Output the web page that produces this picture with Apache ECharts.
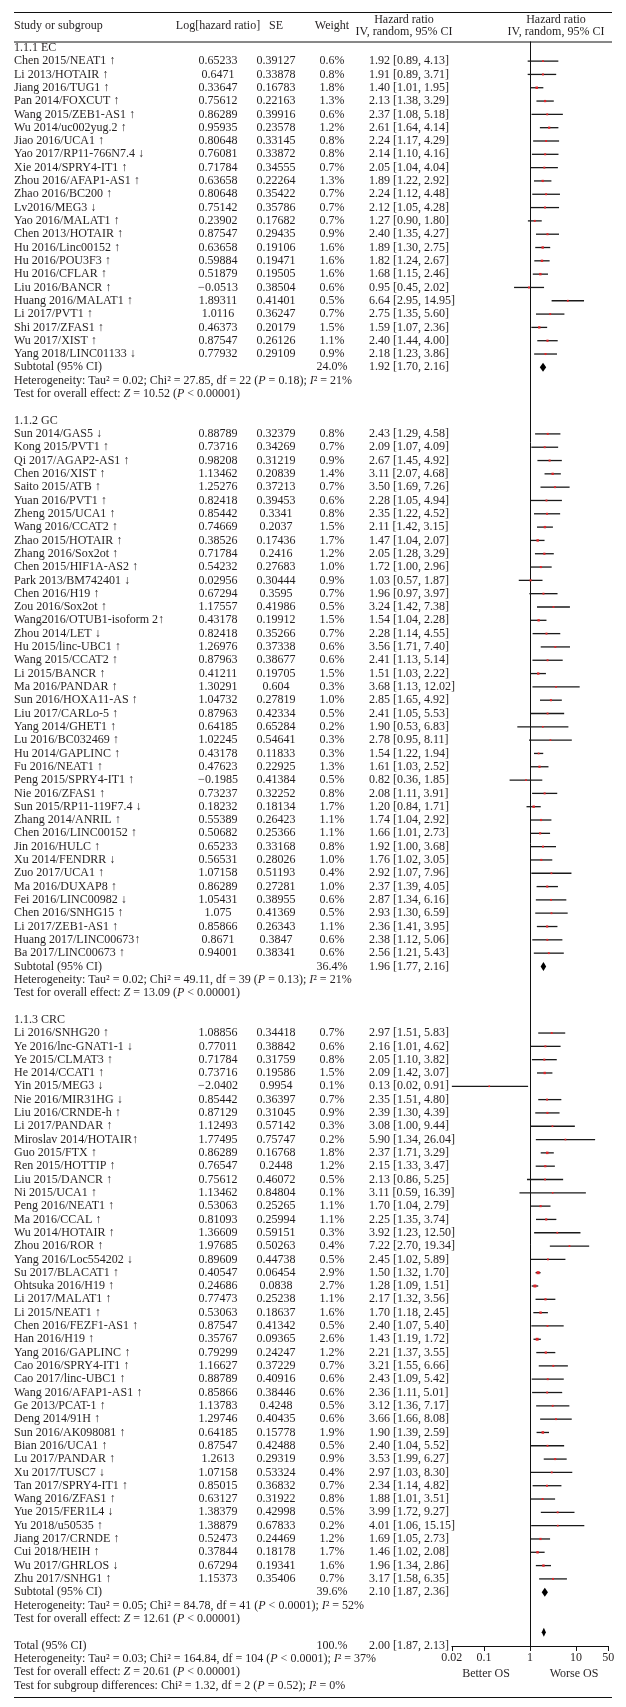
<!DOCTYPE html>
<html>
<head>
<meta charset="utf-8">
<script src="https://cdn.jsdelivr.net/npm/echarts@6/dist/echarts.min.js"></script>
<style>
  html, body { margin: 0; padding: 0; background: #fff; }
  #chart { width: 626px; height: 1707px; }
</style>
</head>
<body>
<div id="chart"></div>
<script>
// ---- data: 1.1.1 EC ----
const ecStudies = ['Chen 2015/NEAT1 ↑', 'Li 2013/HOTAIR ↑', 'Jiang 2016/TUG1 ↑', 'Pan 2014/FOXCUT ↑', 'Wang 2015/ZEB1-AS1 ↑',
  'Wu 2014/uc002yug.2 ↑', 'Jiao 2016/UCA1 ↑', 'Yao 2017/RP11-766N7.4 ↓', 'Xie 2014/SPRY4-IT1 ↑', 'Zhou 2016/AFAP1-AS1 ↑',
  'Zhao 2016/BC200 ↑', 'Lv2016/MEG3 ↓', 'Yao 2016/MALAT1 ↑', 'Chen 2013/HOTAIR ↑', 'Hu 2016/Linc00152 ↑',
  'Hu 2016/POU3F3 ↑', 'Hu 2016/CFLAR ↑', 'Liu 2016/BANCR ↑', 'Huang 2016/MALAT1 ↑', 'Li 2017/PVT1 ↑',
  'Shi 2017/ZFAS1 ↑', 'Wu 2017/XIST ↑', 'Yang 2018/LINC01133 ↓'];
const ecLogHR = [0.65233, 0.6471, 0.33647, 0.75612, 0.86289, 0.95935, 0.80648, 0.76081, 0.71784, 0.63658,
  0.80648, 0.75142, 0.23902, 0.87547, 0.63658, 0.59884, 0.51879, -0.0513, 1.89311, 1.0116,
  0.46373, 0.87547, 0.77932];
const ecSE = [0.39127, 0.33878, 0.16783, 0.22163, 0.39916, 0.23578, 0.33145, 0.33872, 0.34555, 0.22264,
  0.35422, 0.35786, 0.17682, 0.29435, 0.19106, 0.19471, 0.19505, 0.38504, 0.41401, 0.36247,
  0.20179, 0.26126, 0.29109];
const ecWeight = ['0.6%', '0.8%', '1.8%', '1.3%', '0.6%', '1.2%', '0.8%', '0.8%', '0.7%', '1.3%',
  '0.7%', '0.7%', '0.7%', '0.9%', '1.6%', '1.6%', '1.6%', '0.6%', '0.5%', '0.7%',
  '1.5%', '1.1%', '0.9%'];
const ecHR = [1.92, 1.91, 1.40, 2.13, 2.37, 2.61, 2.24, 2.14, 2.05, 1.89, 2.24, 2.12, 1.27, 2.40, 1.89, 1.82, 1.68, 0.95, 6.64, 2.75, 1.59, 2.40, 2.18];
const ecLow = [0.89, 0.89, 1.01, 1.38, 1.08, 1.64, 1.17, 1.10, 1.04, 1.22, 1.12, 1.05, 0.90, 1.35, 1.30, 1.24, 1.15, 0.45, 2.95, 1.35, 1.07, 1.44, 1.23];
const ecHigh = [4.13, 3.71, 1.95, 3.29, 5.18, 4.14, 4.29, 4.16, 4.04, 2.92, 4.48, 4.28, 1.80, 4.27, 2.75, 2.67, 2.46, 2.02, 14.95, 5.60, 2.36, 4.00, 3.86];

// ---- data: 1.1.2 GC ----
const gcStudies = ['Sun 2014/GAS5 ↓', 'Kong 2015/PVT1 ↑', 'Qi 2017/AGAP2-AS1 ↑', 'Chen 2016/XIST ↑', 'Saito 2015/ATB ↑',
  'Yuan 2016/PVT1 ↑', 'Zheng 2015/UCA1 ↑', 'Wang 2016/CCAT2 ↑', 'Zhao 2015/HOTAIR ↑', 'Zhang 2016/Sox2ot ↑',
  'Chen 2015/HIF1A-AS2 ↑', 'Park 2013/BM742401 ↓', 'Chen 2016/H19 ↑', 'Zou 2016/Sox2ot ↑', 'Wang2016/OTUB1-isoform 2↑',
  'Zhou 2014/LET ↓', 'Hu 2015/linc-UBC1 ↑', 'Wang 2015/CCAT2 ↑', 'Li 2015/BANCR ↑', 'Ma 2016/PANDAR ↑',
  'Sun 2016/HOXA11-AS ↑', 'Liu 2017/CARLo-5 ↑', 'Yang 2014/GHET1 ↑', 'Lu 2016/BC032469 ↑', 'Hu 2014/GAPLINC ↑',
  'Fu 2016/NEAT1 ↑', 'Peng 2015/SPRY4-IT1 ↑', 'Nie 2016/ZFAS1 ↑', 'Sun 2015/RP11-119F7.4 ↓', 'Zhang 2014/ANRIL ↑',
  'Chen 2016/LINC00152 ↑', 'Jin 2016/HULC ↑', 'Xu 2014/FENDRR ↓', 'Zuo 2017/UCA1 ↑', 'Ma 2016/DUXAP8 ↑',
  'Fei 2016/LINC00982 ↓', 'Chen 2016/SNHG15 ↑', 'Li 2017/ZEB1-AS1 ↑', 'Huang 2017/LINC00673↑', 'Ba 2017/LINC00673 ↑'];
const gcLogHR = [0.88789, 0.73716, 0.98208, 1.13462, 1.25276, 0.82418, 0.85442, 0.74669, 0.38526, 0.71784,
  0.54232, 0.02956, 0.67294, 1.17557, 0.43178, 0.82418, 1.26976, 0.87963, 0.41211, 1.30291,
  1.04732, 0.87963, 0.64185, 1.02245, 0.43178, 0.47623, -0.1985, 0.73237, 0.18232, 0.55389,
  0.50682, 0.65233, 0.56531, 1.07158, 0.86289, 1.05431, 1.075, 0.85866, 0.8671, 0.94001];
const gcSE = [0.32379, 0.34269, 0.31219, 0.20839, 0.37213, 0.39453, 0.3341, 0.2037, 0.17436, 0.2416,
  0.27683, 0.30444, 0.3595, 0.41986, 0.19912, 0.35266, 0.37338, 0.38677, 0.19705, 0.604,
  0.27819, 0.42334, 0.65284, 0.54641, 0.11833, 0.22925, 0.41384, 0.32252, 0.18134, 0.26423,
  0.25366, 0.33168, 0.28026, 0.51193, 0.27281, 0.38955, 0.41369, 0.26343, 0.3847, 0.38341];
const gcWeight = ['0.8%', '0.7%', '0.9%', '1.4%', '0.7%', '0.6%', '0.8%', '1.5%', '1.7%', '1.2%',
  '1.0%', '0.9%', '0.7%', '0.5%', '1.5%', '0.7%', '0.6%', '0.6%', '1.5%', '0.3%',
  '1.0%', '0.5%', '0.2%', '0.3%', '0.3%', '1.3%', '0.5%', '0.8%', '1.7%', '1.1%',
  '1.1%', '0.8%', '1.0%', '0.4%', '1.0%', '0.6%', '0.5%', '1.1%', '0.6%', '0.6%'];
const gcHR = [2.43, 2.09, 2.67, 3.11, 3.50, 2.28, 2.35, 2.11, 1.47, 2.05, 1.72, 1.03, 1.96, 3.24, 1.54, 2.28, 3.56, 2.41, 1.51, 3.68,
  2.85, 2.41, 1.90, 2.78, 1.54, 1.61, 0.82, 2.08, 1.20, 1.74, 1.66, 1.92, 1.76, 2.92, 2.37, 2.87, 2.93, 2.36, 2.38, 2.56];
const gcLow = [1.29, 1.07, 1.45, 2.07, 1.69, 1.05, 1.22, 1.42, 1.04, 1.28, 1.00, 0.57, 0.97, 1.42, 1.04, 1.14, 1.71, 1.13, 1.03, 1.13,
  1.65, 1.05, 0.53, 0.95, 1.22, 1.03, 0.36, 1.11, 0.84, 1.04, 1.01, 1.00, 1.02, 1.07, 1.39, 1.34, 1.30, 1.41, 1.12, 1.21];
const gcHigh = [4.58, 4.09, 4.92, 4.68, 7.26, 4.94, 4.52, 3.15, 2.07, 3.29, 2.96, 1.87, 3.97, 7.38, 2.28, 4.55, 7.40, 5.14, 2.22, 12.02,
  4.92, 5.53, 6.83, 8.11, 1.94, 2.52, 1.85, 3.91, 1.71, 2.92, 2.73, 3.68, 3.05, 7.96, 4.05, 6.16, 6.59, 3.95, 5.06, 5.43];

// ---- data: 1.1.3 CRC ----
const crcStudies = ['Li 2016/SNHG20 ↑', 'Ye 2016/lnc-GNAT1-1 ↓', 'Ye 2015/CLMAT3 ↑', 'He 2014/CCAT1 ↑', 'Yin 2015/MEG3 ↓',
  'Nie 2016/MIR31HG ↓', 'Liu 2016/CRNDE-h ↑', 'Li 2017/PANDAR ↑', 'Miroslav 2014/HOTAIR↑', 'Guo 2015/FTX ↑',
  'Ren 2015/HOTTIP ↑', 'Liu 2015/DANCR ↑', 'Ni 2015/UCA1 ↑', 'Peng 2016/NEAT1 ↑', 'Ma 2016/CCAL ↑',
  'Wu 2014/HOTAIR ↑', 'Zhou 2016/ROR ↑', 'Yang 2016/Loc554202 ↓', 'Su 2017/BLACAT1 ↑', 'Ohtsuka 2016/H19 ↑',
  'Li 2017/MALAT1 ↑', 'Li 2015/NEAT1 ↑', 'Chen 2016/FEZF1-AS1 ↑', 'Han 2016/H19 ↑', 'Yang 2016/GAPLINC ↑',
  'Cao 2016/SPRY4-IT1 ↑', 'Cao 2017/linc-UBC1 ↑', 'Wang 2016/AFAP1-AS1 ↑', 'Ge 2013/PCAT-1 ↑', 'Deng 2014/91H ↑',
  'Sun 2016/AK098081 ↑', 'Bian 2016/UCA1 ↑', 'Lu 2017/PANDAR ↑', 'Xu 2017/TUSC7 ↓', 'Tan 2017/SPRY4-IT1 ↑',
  'Wang 2016/ZFAS1 ↑', 'Yue 2015/FER1L4 ↓', 'Yu 2018/u50535 ↑', 'Jiang 2017/CRNDE ↑', 'Cui 2018/HEIH ↑',
  'Wu 2017/GHRLOS ↓', 'Zhu 2017/SNHG1 ↑'];
const crcLogHR = [1.08856, 0.77011, 0.71784, 0.73716, -2.0402, 0.85442, 0.87129, 1.12493, 1.77495, 0.86289,
  0.76547, 0.75612, 1.13462, 0.53063, 0.81093, 1.36609, 1.97685, 0.89609, 0.40547, 0.24686,
  0.77473, 0.53063, 0.87547, 0.35767, 0.79299, 1.16627, 0.88789, 0.85866, 1.13783, 1.29746,
  0.64185, 0.87547, 1.2613, 1.07158, 0.85015, 0.63127, 1.38379, 1.38879, 0.52473, 0.37844,
  0.67294, 1.15373];
const crcSE = [0.34418, 0.38842, 0.31759, 0.19586, 0.9954, 0.36397, 0.31045, 0.57142, 0.75747, 0.16768,
  0.2448, 0.46072, 0.84804, 0.25265, 0.25994, 0.59151, 0.50263, 0.44738, 0.06454, 0.0838,
  0.25238, 0.18637, 0.41342, 0.09365, 0.24247, 0.37229, 0.40916, 0.38446, 0.4248, 0.40435,
  0.15778, 0.42488, 0.29319, 0.53324, 0.36832, 0.31922, 0.42998, 0.67833, 0.24469, 0.18178,
  0.19341, 0.35406];
const crcWeight = ['0.7%', '0.6%', '0.8%', '1.5%', '0.1%', '0.7%', '0.9%', '0.3%', '0.2%', '1.8%',
  '1.2%', '0.5%', '0.1%', '1.1%', '1.1%', '0.3%', '0.4%', '0.5%', '2.9%', '2.7%',
  '1.1%', '1.6%', '0.5%', '2.6%', '1.2%', '0.7%', '0.6%', '0.6%', '0.5%', '0.6%',
  '1.9%', '0.5%', '0.9%', '0.4%', '0.7%', '0.8%', '0.5%', '0.2%', '1.2%', '1.7%',
  '1.6%', '0.7%'];
const crcHR = [2.97, 2.16, 2.05, 2.09, 0.13, 2.35, 2.39, 3.08, 5.90, 2.37, 2.15, 2.13, 3.11, 1.70, 2.25, 3.92, 7.22, 2.45, 1.50, 1.28,
  2.17, 1.70, 2.40, 1.43, 2.21, 3.21, 2.43, 2.36, 3.12, 3.66, 1.90, 2.40, 3.53, 2.97, 2.34, 1.88, 3.99, 4.01, 1.69, 1.46, 1.96, 3.17];
const crcLow = [1.51, 1.01, 1.10, 1.42, 0.02, 1.51, 1.30, 1.00, 1.34, 1.71, 1.33, 0.86, 0.59, 1.04, 1.35, 1.23, 2.70, 1.02, 1.32, 1.09,
  1.32, 1.18, 1.07, 1.19, 1.37, 1.55, 1.09, 1.11, 1.36, 1.66, 1.39, 1.04, 1.99, 1.03, 1.14, 1.01, 1.72, 1.06, 1.05, 1.02, 1.34, 1.58];
const crcHigh = [5.83, 4.62, 3.82, 3.07, 0.91, 4.80, 4.39, 9.44, 26.04, 3.29, 3.47, 5.25, 16.39, 2.79, 3.74, 12.50, 19.34, 5.89, 1.70, 1.51,
  3.56, 2.45, 5.40, 1.72, 3.55, 6.66, 5.42, 5.01, 7.17, 8.08, 2.59, 5.52, 6.27, 8.30, 4.82, 3.51, 9.27, 15.15, 2.73, 2.08, 2.86, 6.35];

// ---- subgroup and overall results ----
const groupLabels = ['1.1.1 EC', '1.1.2 GC', '1.1.3 CRC'];
const subtotalWeight = ['24.0%', '36.4%', '39.6%'];
const subtotalHR = [1.92, 1.96, 2.10];
const subtotalLow = [1.70, 1.77, 1.87];
const subtotalHigh = [2.16, 2.16, 2.36];
const heterogeneityText = [
  'Heterogeneity: Tau² = 0.02; Chi² = 27.85, df = 22 ({i|P} = 0.18); {i|I}² = 21%',
  'Heterogeneity: Tau² = 0.02; Chi² = 49.11, df = 39 ({i|P} = 0.13); {i|I}² = 21%',
  'Heterogeneity: Tau² = 0.05; Chi² = 84.78, df = 41 ({i|P} < 0.0001); {i|I}² = 52%'
];
const overallText = [
  'Test for overall effect: {i|Z} = 10.52 ({i|P} < 0.00001)',
  'Test for overall effect: {i|Z} = 13.09 ({i|P} < 0.00001)',
  'Test for overall effect: {i|Z} = 12.61 ({i|P} < 0.00001)'
];
const totalWeight = '100.%';
const totalHR = 2.00, totalLow = 1.87, totalHigh = 2.13;
const totalTexts = [
  'Heterogeneity: Tau² = 0.03; Chi² = 164.84, df = 104 ({i|P} < 0.0001); {i|I}² = 37%',
  'Test for overall effect: {i|Z} = 20.61 ({i|P} < 0.00001)',
  'Test for subgroup differences: Chi² = 1.32, df = 2 ({i|P} = 0.52); {i|I}² = 0%'
];
const tickValues = [0.02, 0.1, 1, 10, 50];
const tickLabels = ['0.02', '0.1', '1', '10', '50'];

// ---- layout ----
const W = 626, H = 1707;
const ROW_H = 13.314, ROW0_Y = 47.8;         // pixel centre of row 0
const COL = { name: 14, log: 218, se: 276, weight: 332, hr: 369, hrHead: 404, plotHead: 556 };
const X_ONE = 530, DECADE = 46;              // forest plot: x of HR = 1, px per decade
const TOP_RULE = 12, HEAD_RULE = 41.5, BOTTOM_RULE = 1697;
const AXIS_Y = 1646;
const FONT = 'Liberation Serif', FS = 12;
const INK = '#231f20';

const groups = [
  { names: ecStudies, logHR: ecLogHR, se: ecSE, weight: ecWeight, hr: ecHR, lo: ecLow, hi: ecHigh },
  { names: gcStudies, logHR: gcLogHR, se: gcSE, weight: gcWeight, hr: gcHR, lo: gcLow, hi: gcHigh },
  { names: crcStudies, logHR: crcLogHR, se: crcSE, weight: crcWeight, hr: crcHR, lo: crcLow, hi: crcHigh }
];

const rowOf = y => (y - ROW0_Y) / ROW_H;
const fmtHR = (h, l, u) => h.toFixed(2) + ' [' + l.toFixed(2) + ', ' + u.toFixed(2) + ']';
const fmtNum = v => String(v).replace('-', '\u2212');

const texts = [];     // [x, row, text, align]
const ciData = [];    // [log lo, log hi, log hr, row, weight]
const diamonds = [];  // [log lo, log hi, log est, row]
function addText(x, row, text, align) { texts.push([x, row, text, align || 'left']); }

// header
addText(COL.name, rowOf(26), 'Study or subgroup');
addText(COL.log, rowOf(26), 'Log[hazard ratio]', 'center');
addText(COL.se, rowOf(26), 'SE', 'center');
addText(COL.weight, rowOf(26), 'Weight', 'center');
addText(COL.hrHead, rowOf(20), 'Hazard ratio', 'center');
addText(COL.hrHead, rowOf(31.5), 'IV, random, 95% CI', 'center');
addText(COL.plotHead, rowOf(20), 'Hazard ratio', 'center');
addText(COL.plotHead, rowOf(31.5), 'IV, random, 95% CI', 'center');

let row = 0;
groups.forEach((g, gi) => {
  addText(COL.name, row, groupLabels[gi]);
  row++;
  g.names.forEach((n, i) => {
    addText(COL.name, row, n);
    addText(COL.log, row, fmtNum(g.logHR[i]), 'center');
    addText(COL.se, row, fmtNum(g.se[i]), 'center');
    addText(COL.weight, row, g.weight[i], 'center');
    addText(COL.hr, row, fmtHR(g.hr[i], g.lo[i], g.hi[i]));
    ciData.push([Math.log10(g.lo[i]), Math.log10(g.hi[i]), Math.log10(g.hr[i]), row, parseFloat(g.weight[i])]);
    row++;
  });
  addText(COL.name, row, 'Subtotal (95% CI)');
  addText(COL.weight, row, subtotalWeight[gi], 'center');
  addText(COL.hr, row, fmtHR(subtotalHR[gi], subtotalLow[gi], subtotalHigh[gi]));
  diamonds.push([Math.log10(subtotalLow[gi]), Math.log10(subtotalHigh[gi]), Math.log10(subtotalHR[gi]), row]);
  row++;
  addText(COL.name, row, heterogeneityText[gi]); row++;
  addText(COL.name, row, overallText[gi]); row++;
  row++; // blank
});
diamonds.push([Math.log10(totalLow), Math.log10(totalHigh), Math.log10(totalHR), row - 1]);
addText(COL.name, row, 'Total (95% CI)');
addText(COL.weight, row, totalWeight, 'center');
addText(COL.hr, row, fmtHR(totalHR, totalLow, totalHigh));
row++;
totalTexts.forEach(t => { addText(COL.name, row, t); row++; });
addText(486, rowOf(1674), 'Better OS', 'center');
addText(574, rowOf(1674), 'Worse OS', 'center');

const LOG_MIN = Math.log10(tickValues[0]), LOG_MAX = Math.log10(tickValues[tickValues.length - 1]);
const plotLeft = X_ONE + LOG_MIN * DECADE, plotRight = X_ONE + LOG_MAX * DECADE;

const RICH = { i: { fontStyle: 'italic', fontFamily: FONT, fontSize: FS, fill: INK } };

const chart = echarts.init(document.getElementById('chart'), null, { renderer: 'canvas' });
chart.setOption({
  backgroundColor: '#fff',
  animation: false,
  grid: [
    { left: 0, right: 0, top: 0, bottom: 0, outerBoundsMode: 'none' },
    { left: plotLeft, right: W - plotRight, top: HEAD_RULE, height: AXIS_Y - HEAD_RULE, outerBoundsMode: 'none' }
  ],
  xAxis: [
    { gridIndex: 0, type: 'value', min: 0, max: W, show: false },
    {
      gridIndex: 1, type: 'value', min: LOG_MIN, max: LOG_MAX, position: 'bottom',
      axisLine: { show: true, onZero: false, lineStyle: { color: '#111', width: 1 } },
      axisTick: { show: true, length: 5, customValues: tickValues.map(Math.log10), lineStyle: { color: '#111' } },
      axisLabel: {
        customValues: tickValues.map(Math.log10), margin: 6, color: INK, fontFamily: FONT, fontSize: FS,
        formatter: v => {
          let k = 0;
          tickValues.forEach((t, i) => { if (Math.abs(Math.log10(t) - v) < Math.abs(Math.log10(tickValues[k]) - v)) k = i; });
          return tickLabels[k];
        }
      },
      splitLine: { show: false }
    }
  ],
  yAxis: [
    { gridIndex: 0, type: 'value', min: rowOf(0), max: rowOf(H), inverse: true, show: false },
    { gridIndex: 1, type: 'value', min: rowOf(HEAD_RULE), max: rowOf(AXIS_Y), inverse: true, show: false }
  ],
  graphic: [
    { type: 'line', shape: { x1: 14, y1: TOP_RULE + 0.5, x2: 612, y2: TOP_RULE + 0.5 }, style: { stroke: '#111', lineWidth: 1 } },
    { type: 'line', shape: { x1: 14, y1: HEAD_RULE + 0.5, x2: 612, y2: HEAD_RULE + 0.5 }, style: { stroke: '#111', lineWidth: 1 } },
    { type: 'line', shape: { x1: 14, y1: BOTTOM_RULE + 0.5, x2: 612, y2: BOTTOM_RULE + 0.5 }, style: { stroke: '#111', lineWidth: 1 } }
  ],
  series: [
    {
      type: 'custom', name: 'table', xAxisIndex: 0, yAxisIndex: 0, silent: true,
      data: texts.map(t => [t[0], t[1]]),
      renderItem: (params, api) => {
        const t = texts[params.dataIndex];
        const p = api.coord([t[0], t[1]]);
        return {
          type: 'text', x: p[0], y: p[1],
          style: { text: t[2], fontFamily: FONT, fontSize: FS, fill: INK, align: t[3], verticalAlign: 'middle', rich: RICH }
        };
      }
    },
    {
      type: 'custom', name: 'null line', xAxisIndex: 1, yAxisIndex: 1, silent: true,
      data: [[0, rowOf(HEAD_RULE), rowOf(AXIS_Y)]],
      renderItem: (params, api) => {
        const a = api.coord([0, api.value(1)]), b = api.coord([0, api.value(2)]);
        return { type: 'line', shape: { x1: Math.round(a[0]) + 0.5, y1: a[1], x2: Math.round(b[0]) + 0.5, y2: b[1] }, style: { stroke: '#111', lineWidth: 1 } };
      }
    },
    {
      type: 'custom', name: 'studies', xAxisIndex: 1, yAxisIndex: 1, silent: true,
      data: ciData,
      renderItem: (params, api) => {
        const lo = api.coord([api.value(0), api.value(3)]);
        const hi = api.coord([api.value(1), api.value(3)]);
        const est = api.coord([api.value(2), api.value(3)]);
        const s = 1.6 + api.value(4) * 0.5;
        return {
          type: 'group',
          children: [
            { type: 'line', shape: { x1: lo[0], y1: lo[1], x2: hi[0], y2: hi[1] }, style: { stroke: '#1a1a1a', lineWidth: 1.3 } },
            { type: 'rect', shape: { x: est[0] - s / 2, y: est[1] - s / 2, width: s, height: s }, style: { fill: '#e0262b' } }
          ]
        };
      }
    },
    {
      type: 'custom', name: 'pooled', xAxisIndex: 1, yAxisIndex: 1, silent: true,
      data: diamonds,
      renderItem: (params, api) => {
        const lo = api.coord([api.value(0), api.value(3)]);
        const hi = api.coord([api.value(1), api.value(3)]);
        const est = api.coord([api.value(2), api.value(3)]);
        const h = 4.5;
        return {
          type: 'polygon',
          shape: { points: [[lo[0] - 0.8, lo[1]], [est[0], est[1] - h], [hi[0] + 0.8, hi[1]], [est[0], est[1] + h]] },
          style: { fill: '#000' }
        };
      }
    }
  ]
});
</script>
</body>
</html>
